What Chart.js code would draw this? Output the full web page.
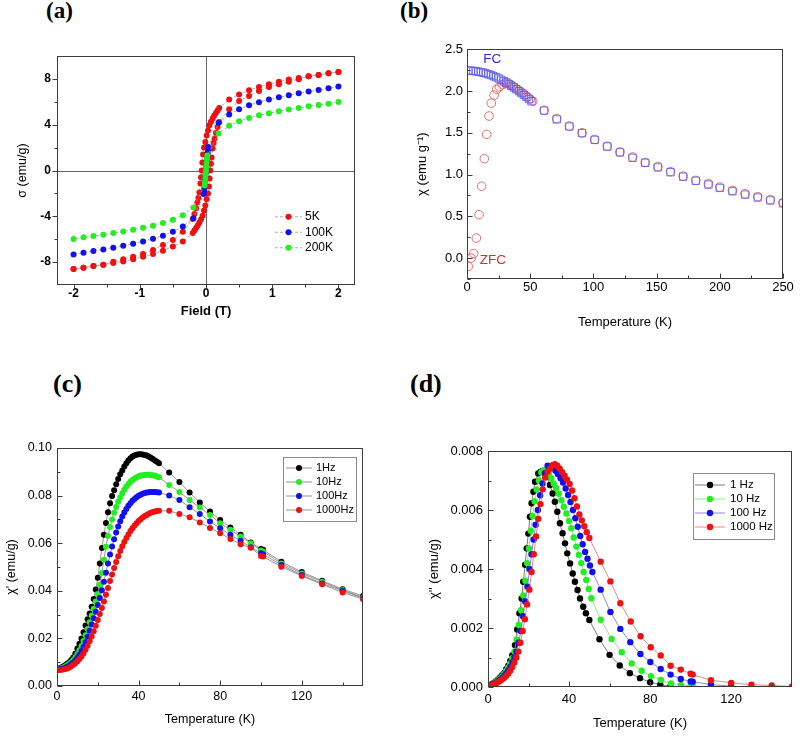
<!DOCTYPE html>
<html>
<head>
<meta charset="utf-8">
<script src="https://cdn.jsdelivr.net/npm/chart.js@4.4.0/dist/chart.umd.min.js"></script>
<style>
  body { margin: 0; background: #fff; width: 800px; height: 736px; position: relative; overflow: hidden; }
  canvas { position: absolute; }
  .tag { position: absolute; font: bold 26px "Liberation Serif", "Times New Roman", serif; line-height: 26px; color: #000; }
  .tag.small { font-size: 23px; line-height: 23px; }
</style>
</head>
<body>
<div class="tag small" style="left:46px;top:-1px">(a)</div>
<div class="tag small" style="left:400px;top:-1px">(b)</div>
<div class="tag" style="left:53px;top:371px">(c)</div>
<div class="tag" style="left:410px;top:371px">(d)</div>
<canvas id="ca" width="380" height="300" style="left:0;top:40px"></canvas>
<canvas id="cb" width="400" height="297" style="left:400px;top:43px"></canvas>
<canvas id="cc" width="380" height="336" style="left:0;top:400px"></canvas>
<canvas id="cd" width="400" height="336" style="left:400px;top:400px"></canvas>
<script>
// ---- (a) hysteresis loops ----
const field5Down = [2, 1.85, 1.7, 1.55, 1.4, 1.25, 1.1, 0.95, 0.8, 0.65, 0.5, 0.35,
  0.2, 0.175, 0.15, 0.125, 0.1, 0.075, 0.05, 0.03, 0.01, -0.01, -0.03, -0.045, -0.055, -0.065,
  -0.075, -0.085, -0.1, -0.115, -0.13, -0.15, -0.175, -0.2,
  -0.35, -0.5, -0.65, -0.8, -0.95, -1.1, -1.25, -1.4, -1.55, -1.7, -1.85, -2];
const sigma5Down = [8.6, 8.49, 8.35, 8.23, 8.08, 7.94, 7.76, 7.53, 7.3, 7.0, 6.63, 6.2,
  5.46, 5.25, 5.03, 4.8, 4.54, 4.25, 3.95, 3.5, 3.05, 2.5, 2.0, 1.4, 0.7, 0,
  -0.6, -1.14, -1.92, -2.4, -2.8, -3.3, -3.8, -4.24,
  -5.36, -6.07, -6.5, -6.95, -7.3, -7.53, -7.76, -7.97, -8.23, -8.35, -8.49, -8.6];
const field5Up = [-2, -1.85, -1.7, -1.55, -1.4, -1.25, -1.1, -0.95, -0.8, -0.65, -0.5, -0.35,
  -0.2, -0.175, -0.15, -0.125, -0.1, -0.075, -0.05, -0.03, -0.01, 0.01, 0.03, 0.045, 0.055, 0.065,
  0.075, 0.085, 0.1, 0.115, 0.13, 0.15, 0.175, 0.2,
  0.35, 0.5, 0.65, 0.8, 0.95, 1.1, 1.25, 1.4, 1.55, 1.7, 1.85, 2];
const sigma5Up = [-8.6, -8.49, -8.35, -8.23, -8.08, -7.94, -7.76, -7.53, -7.3, -7.0, -6.63, -6.2,
  -5.46, -5.25, -5.03, -4.8, -4.54, -4.25, -3.95, -3.5, -3.05, -2.5, -2.0, -1.4, -0.7, 0,
  0.6, 1.14, 1.92, 2.4, 2.8, 3.3, 3.8, 4.24,
  5.36, 6.07, 6.5, 6.95, 7.3, 7.53, 7.76, 7.97, 8.23, 8.35, 8.49, 8.6];
const field100 = [2, 1.85, 1.7, 1.55, 1.4, 1.25, 1.1, 0.95, 0.8, 0.65, 0.5, 0.35,
  0.19, 0.035, 0.03, 0.025, 0.02, 0.015, 0.01, 0.005, 0, -0.005, -0.01, -0.015, -0.02, -0.025, -0.03, -0.035,
  -0.19, -0.35, -0.5, -0.65, -0.8, -0.95, -1.1, -1.25, -1.4, -1.55, -1.7, -1.85, -2];
const sigma100 = [7.33, 7.18, 7.03, 6.89, 6.74, 6.57, 6.4, 6.2, 5.96, 5.7, 5.35, 4.89,
  4.16, 2.06, 1.8, 1.5, 1.2, 0.9, 0.6, 0.3, 0, -0.3, -0.6, -0.9, -1.2, -1.5, -1.8, -2.06,
  -4.16, -4.89, -5.35, -5.7, -5.96, -6.2, -6.4, -6.57, -6.74, -6.89, -7.03, -7.18, -7.33];
const field200 = [2, 1.85, 1.7, 1.55, 1.4, 1.25, 1.1, 0.95, 0.8, 0.65, 0.5, 0.35,
  0.19, 0.02, 0.015, 0.01, 0.005, 0, -0.005, -0.01, -0.015, -0.02,
  -0.19, -0.35, -0.5, -0.65, -0.8, -0.95, -1.1, -1.25, -1.4, -1.55, -1.7, -1.85, -2];
const sigma200 = [5.99, 5.84, 5.73, 5.61, 5.46, 5.32, 5.17, 5.0, 4.83, 4.59, 4.3, 3.9,
  3.23, 1.3, 1.0, 0.65, 0.33, 0, -0.33, -0.65, -1.0, -1.3,
  -3.23, -3.9, -4.3, -4.59, -4.83, -5.0, -5.17, -5.32, -5.46, -5.61, -5.73, -5.84, -5.99];
const loopLabels = ['5K', '100K', '200K'];
const fieldTicks = [-2, -1, 0, 1, 2];
const fieldMinor = [-1.5, -0.5, 0.5, 1.5];
const sigmaTicks = [-8, -4, 0, 4, 8];
const sigmaMinor = [-6, -2, 2, 6];

// ---- (b) ZFC / FC ----
const zfcT = [1, 3.2, 5.3, 7.4, 9.5, 11.6, 13.7, 15.6, 17.4, 19.2, 21.4, 23.5, 25.6,
  28, 30, 32, 34, 36, 38, 40, 42, 44, 46, 48, 50, 52,
  61, 71, 81, 91, 101, 111, 121, 131, 141, 151, 161, 171, 181, 191, 200, 210, 220, 230, 240, 250];
const zfcChi = [-0.1, 0.0, 0.055, 0.24, 0.52, 0.86, 1.19, 1.48, 1.70, 1.855, 1.95, 2.02, 2.05,
  2.075, 2.095, 2.10, 2.08, 2.06, 2.04, 2.02, 1.997, 1.975, 1.952, 1.928, 1.903, 1.878,
  1.77, 1.67, 1.58, 1.50, 1.42, 1.34, 1.27, 1.21, 1.145, 1.095, 1.035, 0.98, 0.93, 0.89, 0.85, 0.81, 0.77, 0.735, 0.70, 0.665];
const fcT = [1, 3, 5, 7, 9, 11, 13, 15, 17, 19, 21, 23, 25, 27, 29, 31, 33, 35, 37, 39, 41, 43, 45, 47, 49, 51,
  61, 71, 81, 91, 101, 111, 121, 131, 141, 151, 161, 171, 181, 191, 200, 210, 220, 230, 240, 250];
const fcChi = [2.245, 2.243, 2.24, 2.236, 2.231, 2.225, 2.218, 2.21, 2.20, 2.19, 2.178, 2.165, 2.15,
  2.135, 2.118, 2.10, 2.082, 2.062, 2.042, 2.02, 1.998, 1.975, 1.952, 1.928, 1.903, 1.877,
  1.765, 1.66, 1.575, 1.495, 1.415, 1.335, 1.265, 1.20, 1.14, 1.085, 1.028, 0.975, 0.925, 0.88, 0.84, 0.80, 0.76, 0.725, 0.69, 0.655];
const tempTicksB = [0, 50, 100, 150, 200, 250];
const tempMinorB = [25, 75, 125, 175, 225];
const chiTicksB = [0, 0.5, 1.0, 1.5, 2.0, 2.5];
const chiMinorB = [-0.25, 0.25, 0.75, 1.25, 1.75, 2.25];
const notesB = [{ text: 'FC', t: 20, v: 2.38, color: '#2a2ae0' }, { text: 'ZFC', t: 20.5, v: -0.03, color: '#e02a2a' }];

// ---- (c) chi' ----
const acT = [1, 2, 3, 4, 5, 6, 7, 8, 9, 10, 11, 12, 13, 14, 15, 16, 17, 18, 19, 20,
  21, 22, 23, 24, 25, 26, 27, 28, 29, 30, 31, 32, 33, 34, 35, 36, 37, 38, 39, 40,
  41, 42, 43, 44, 45, 46, 47, 48, 49, 50,
  55, 60, 65, 70, 75, 80, 85, 90, 95, 100, 101, 110, 120, 130, 140, 150];
const chiR1 = [0.0075, 0.0078, 0.0082, 0.0087, 0.0093, 0.0100, 0.0109, 0.0120, 0.0137, 0.0158,
  0.0178, 0.0200, 0.0226, 0.0254, 0.0280, 0.0305, 0.0333, 0.0366, 0.0405, 0.0455,
  0.0515, 0.0580, 0.0635, 0.0685, 0.0730, 0.0768, 0.0798, 0.0822, 0.0848, 0.0870,
  0.0890, 0.0905, 0.0922, 0.0936, 0.0948, 0.0957, 0.0964, 0.0969, 0.0972, 0.0974,
  0.0974, 0.0973, 0.0971, 0.0968, 0.0964, 0.0959, 0.0954, 0.0948, 0.0942, 0.0936,
  0.0897, 0.0857, 0.0813, 0.0771, 0.0733, 0.0698, 0.0666, 0.0635, 0.0603, 0.0576, 0.0572, 0.0522, 0.0479, 0.0442, 0.0407, 0.0378];
const chiR10 = [0.0072, 0.0075, 0.0078, 0.0082, 0.0087, 0.0093, 0.0100, 0.0109, 0.0120, 0.0134,
  0.0150, 0.0168, 0.0189, 0.0213, 0.0240, 0.0268, 0.0296, 0.0325, 0.0355, 0.0387,
  0.0425, 0.0475, 0.0530, 0.0585, 0.0630, 0.0668, 0.0700, 0.0728, 0.0752, 0.0774,
  0.0793, 0.0810, 0.0825, 0.0838, 0.0849, 0.0858, 0.0866, 0.0872, 0.0877, 0.0881,
  0.0884, 0.0886, 0.0887, 0.0888, 0.0888, 0.0887, 0.0885, 0.0883, 0.0880, 0.0877,
  0.0845, 0.0815, 0.0782, 0.0750, 0.0719, 0.0684, 0.0656, 0.0628, 0.0600, 0.0569, 0.0565, 0.0515, 0.0473, 0.0438, 0.0403, 0.0372];
const chiR100 = [0.0070, 0.0072, 0.0074, 0.0077, 0.0081, 0.0086, 0.0092, 0.0099, 0.0108, 0.0119,
  0.0132, 0.0147, 0.0164, 0.0184, 0.0207, 0.0232, 0.0258, 0.0285, 0.0312, 0.0340,
  0.0370, 0.0402, 0.0438, 0.0476, 0.0515, 0.0552, 0.0586, 0.0617, 0.0645, 0.0670,
  0.0692, 0.0712, 0.0729, 0.0744, 0.0757, 0.0768, 0.0778, 0.0786, 0.0793, 0.0799,
  0.0804, 0.0808, 0.0811, 0.0813, 0.0814, 0.0815, 0.0815, 0.0815, 0.0814, 0.0813,
  0.0800, 0.0782, 0.0751, 0.0723, 0.0691, 0.0663, 0.0635, 0.0610, 0.0583, 0.0558, 0.0554, 0.0508, 0.0466, 0.0431, 0.0400, 0.0369];
const chiR1000 = [0.0067, 0.0068, 0.0069, 0.0071, 0.0074, 0.0078, 0.0083, 0.0089, 0.0096, 0.0104,
  0.0113, 0.0124, 0.0137, 0.0152, 0.0169, 0.0188, 0.0208, 0.0230, 0.0253, 0.0277,
  0.0302, 0.0328, 0.0355, 0.0383, 0.0412, 0.0441, 0.0469, 0.0496, 0.0521, 0.0545,
  0.0567, 0.0587, 0.0605, 0.0622, 0.0637, 0.0651, 0.0663, 0.0674, 0.0684, 0.0693,
  0.0701, 0.0708, 0.0714, 0.0719, 0.0724, 0.0728, 0.0731, 0.0733, 0.0735, 0.0736,
  0.0736, 0.0723, 0.0709, 0.0687, 0.0664, 0.0642, 0.0618, 0.0596, 0.0581, 0.0546, 0.0544, 0.0501, 0.0462, 0.0427, 0.0393, 0.0365];
const freqLabelsC = ['1Hz', '10Hz', '100Hz', '1000Hz'];
const tempTicksCD = [0, 40, 80, 120];
const tempMinorCD = [20, 60, 100, 140];
const chiTicksC = [0, 0.02, 0.04, 0.06, 0.08, 0.10];
const chiMinorC = [0.01, 0.03, 0.05, 0.07, 0.09];

// ---- (d) chi'' ----
const dT1 = [1, 2, 3, 4, 5, 6, 7, 8, 9, 10, 11, 12,
  13.3, 14.4, 15.5, 16.6, 17.4, 18.3, 19.1, 19.9, 20.7, 21.5, 22.4, 23.2, 24.8,
  26, 27, 28, 29, 30.6, 31.9, 33, 34.2, 35.5, 36.8, 38, 39.1, 40.5, 41.8, 42.9, 44.2, 45.4, 47, 48.3, 50,
  55, 60, 65, 70, 75, 80, 85, 90];
const dChi1 = [0.00005, 0.0001, 0.00015, 0.0002, 0.00026, 0.00032, 0.0004, 0.00048, 0.0006, 0.00072, 0.00088, 0.00108,
  0.00142, 0.00195, 0.0025, 0.003, 0.00357, 0.00414, 0.0047, 0.0052, 0.00577, 0.00623, 0.00662, 0.00696, 0.00724,
  0.0073, 0.00732, 0.00725, 0.00713, 0.00685, 0.00656, 0.00628, 0.00594, 0.00555, 0.00521, 0.00487, 0.00453, 0.00419, 0.00385, 0.00357, 0.00329, 0.003, 0.00272, 0.0025, 0.00227,
  0.00162, 0.00109, 0.00073, 0.00047, 0.0003, 0.00016, 0.00008, 0.00002];
const dT10 = [1, 2, 3, 4, 5, 6, 7, 8, 9, 10, 11, 12, 13,
  14.1, 15.2, 16.3, 17.4, 18.4, 19.3, 20.2, 21.1, 22, 23, 24, 25.1, 26.3, 27.5, 28.8,
  30, 31.2, 32.4, 33.6, 34.9, 36.2, 37.4, 38.7, 39.9, 41.1, 42.3, 43.6, 44.8, 46, 47.2, 48.5, 49.7, 51,
  55.6, 61, 66, 70.9, 75.8, 80.4, 85.3, 90.3, 95.2, 100, 101];
const dChi10 = [0.00004, 0.00008, 0.00013, 0.00018, 0.00023, 0.00029, 0.00036, 0.00044, 0.00054, 0.00066, 0.0008, 0.00098, 0.0012,
  0.0016, 0.0021, 0.0026, 0.0031, 0.0036, 0.0042, 0.0047, 0.0053, 0.0058, 0.0063, 0.0067, 0.007, 0.00728, 0.00735, 0.00732,
  0.00722, 0.00708, 0.0069, 0.00675, 0.00655, 0.00633, 0.00611, 0.00588, 0.00563, 0.00538, 0.00507, 0.00476, 0.00448, 0.0042, 0.0039, 0.00363, 0.00332, 0.00301,
  0.00228, 0.00163, 0.00118, 0.0008, 0.00055, 0.00037, 0.00024, 0.00012, 0.00007, 0.00004, 0.00004];
const dT100 = [1, 2, 3, 4, 5, 6, 7, 8, 9, 10, 11, 12, 13, 14,
  15.1, 16.2, 17.3, 18.4, 19.5, 20.5, 21.5, 22.5, 23.5, 24.6, 25.7, 26.9, 28.1, 29.4, 30.7,
  32, 33.3, 34.5, 35.8, 37, 38.3, 39.5, 40.7, 41.9, 43.1, 44.3, 45.5, 46.7, 47.9, 49.1, 50.3, 51.5,
  55.6, 60.4, 65.3, 70.2, 75.2, 80.1, 85.2, 90.1, 95.1, 100, 101, 110, 120];
const dChi100 = [0.00003, 0.00007, 0.00011, 0.00015, 0.0002, 0.00025, 0.00031, 0.00038, 0.00046, 0.00056, 0.00068, 0.00083, 0.001, 0.0012,
  0.0015, 0.0019, 0.0024, 0.0029, 0.0034, 0.004, 0.0045, 0.005, 0.0055, 0.006, 0.0065, 0.0069, 0.00725, 0.0075, 0.00748,
  0.00742, 0.00733, 0.00722, 0.00708, 0.00693, 0.00673, 0.00651, 0.00627, 0.006, 0.00572, 0.00543, 0.00512, 0.00484, 0.00458, 0.00435, 0.00412, 0.0039,
  0.0033, 0.00254, 0.00197, 0.00152, 0.00112, 0.00085, 0.00061, 0.00042, 0.00027, 0.00019, 0.00018, 0.00008, 0.00003];
const dT1000 = [1, 2, 3, 4, 5, 6, 7, 8, 9, 10, 11, 12, 13, 14, 15, 16,
  17.1, 18.2, 19.3, 20.4, 21.5, 22.6, 23.7, 24.8, 25.9, 27, 28.2, 29.4, 30.6,
  31.8, 33, 34.2, 35.4, 36.6, 37.8, 39, 40.3, 41.5, 42.7, 43.9, 45.1, 46.3, 47.5, 48.7, 50,
  55.6, 60.4, 65.3, 70.4, 75.3, 80.3, 85.2, 90.1, 95.1, 100, 101, 110, 120, 130, 140, 150];
const dChi1000 = [0.00003, 0.00006, 0.0001, 0.00013, 0.00017, 0.00021, 0.00026, 0.00031, 0.00038, 0.00046, 0.00056, 0.00068, 0.00083, 0.001, 0.0012, 0.0015,
  0.0019, 0.0023, 0.0028, 0.0033, 0.0039, 0.0045, 0.0051, 0.0057, 0.0062, 0.0067, 0.0071, 0.0073, 0.0074,
  0.00752, 0.00755, 0.0075, 0.0074, 0.00728, 0.00716, 0.00703, 0.00688, 0.00666, 0.0064, 0.00612, 0.00585, 0.00565, 0.00545, 0.00525, 0.00505,
  0.00425, 0.00358, 0.00284, 0.00222, 0.00172, 0.00135, 0.00107, 0.00072, 0.00059, 0.00045, 0.00042, 0.00023, 0.00014, 0.00008, 0.00005, 0.00002];
const freqLabelsD = ['1 Hz', '10 Hz', '100 Hz', '1000 Hz'];
const chiTicksD = [0, 0.002, 0.004, 0.006, 0.008];
const chiMinorD = [0.001, 0.003, 0.005, 0.007];

const FONT = '"Liberation Sans", Arial, sans-serif';
Chart.defaults.font.family = FONT;
Chart.defaults.color = '#000';

function pts(xs, ys) {
  return xs.map((x, i) => ({ x: x, y: ys[i] }));
}

function dotSet(label, xs, ys, color, lineColor, r, order, dash) {
  return {
    label: label, data: pts(xs, ys), showLine: true, tension: 0,
    borderColor: lineColor, borderWidth: 0.8, borderDash: dash || [],
    pointRadius: r, pointHoverRadius: r, pointBorderWidth: 0,
    pointBackgroundColor: color, pointBorderColor: color, order: order
  };
}

// axis with fixed box size so chart areas line up with the picture
function scaleCfg(o) {
  return {
    type: 'linear', min: o.min, max: o.max,
    grid: { display: false, drawTicks: false },
    border: { display: false },
    afterBuildTicks: function(s) { s.ticks = o.ticks.map(v => ({ value: v })); },
    afterFit: function(s) {
      if (s.isHorizontal()) s.height = o.size; else s.width = o.size;
      s.paddingLeft = 0; s.paddingRight = 0; s.paddingTop = 0; s.paddingBottom = 0;
    },
    ticks: { autoSkip: false, maxRotation: 0, padding: o.pad, color: '#000', font: o.font, callback: o.fmt },
    title: { display: true, text: o.title, color: '#000', font: o.titleFont, padding: o.titlePad }
  };
}

// box around the plot, tick marks, optional zero cross
function framePlugin(cfg) {
  return {
    id: 'frame',
    beforeDatasetsDraw(chart) {
      if (!cfg.zero) return;
      const { ctx, chartArea: a, scales: { x, y } } = chart;
      const x0 = Math.round(x.getPixelForValue(0)) + 0.5;
      const y0 = Math.round(y.getPixelForValue(0)) + 0.5;
      ctx.save();
      ctx.strokeStyle = '#6a6a6a'; ctx.lineWidth = 1;
      ctx.beginPath();
      ctx.moveTo(x0, a.top); ctx.lineTo(x0, a.bottom);
      ctx.moveTo(a.left, y0); ctx.lineTo(a.right, y0);
      ctx.stroke();
      ctx.restore();
    },
    afterDatasetsDraw(chart) {
      const { ctx, chartArea: a, scales: { x, y } } = chart;
      const l = Math.round(a.left) + 0.5, t = Math.round(a.top) + 0.5;
      const r = Math.round(a.right) - 0.5, b = Math.round(a.bottom) - 0.5;
      ctx.save();
      ctx.strokeStyle = '#3c3c3c'; ctx.lineWidth = 1;
      ctx.strokeRect(l, t, r - l, b - t);
      ctx.beginPath();
      const mark = (scale, vals, len) => vals.forEach(v => {
        const p = Math.round(scale.getPixelForValue(v)) + 0.5;
        if (scale.isHorizontal()) { ctx.moveTo(p, b); ctx.lineTo(p, b - cfg.dir * len); }
        else { ctx.moveTo(l, p); ctx.lineTo(l + cfg.dir * len, p); }
      });
      mark(x, cfg.xMajor, 5); mark(x, cfg.xMinor, 3);
      mark(y, cfg.yMajor, 5); mark(y, cfg.yMinor, 3);
      ctx.stroke();
      ctx.restore();
    }
  };
}

function legendPlugin(cfg) {
  return {
    id: 'boxLegend',
    afterDraw(chart) {
      const { ctx, chartArea: a } = chart;
      const sets = chart.data.datasets;
      const x0 = Math.round(a.left + cfg.x), y0 = Math.round(a.top + cfg.y);
      const h = cfg.pad * 2 + cfg.rowH * sets.length;
      ctx.save();
      if (cfg.box) {
        ctx.fillStyle = '#fff'; ctx.fillRect(x0, y0, cfg.w, h);
        ctx.strokeStyle = '#8a8a8a'; ctx.lineWidth = 1;
        ctx.strokeRect(x0 + 0.5, y0 + 0.5, cfg.w, h);
      }
      ctx.font = cfg.font; ctx.textBaseline = 'middle';
      sets.forEach((d, i) => {
        const cy = y0 + cfg.pad + cfg.rowH * (i + 0.5);
        ctx.strokeStyle = d.borderColor; ctx.lineWidth = d.borderWidth;
        ctx.setLineDash(d.borderDash || []);
        ctx.beginPath(); ctx.moveTo(x0 + cfg.l0, cy); ctx.lineTo(x0 + cfg.l1, cy); ctx.stroke();
        ctx.setLineDash([]);
        ctx.fillStyle = d.pointBackgroundColor;
        ctx.beginPath(); ctx.arc(x0 + (cfg.l0 + cfg.l1) / 2, cy, d.pointRadius, 0, Math.PI * 2); ctx.fill();
        ctx.fillStyle = '#000';
        ctx.fillText(d.label, x0 + cfg.tx, cy);
      });
      ctx.restore();
    }
  };
}

function notePlugin(notes) {
  return {
    id: 'notes',
    afterDatasetsDraw(chart) {
      const { ctx, scales: { x, y } } = chart;
      ctx.save();
      ctx.font = '13.5px ' + FONT; ctx.textAlign = 'center'; ctx.textBaseline = 'middle';
      notes.forEach(n => {
        ctx.fillStyle = n.color;
        ctx.fillText(n.text, x.getPixelForValue(n.t), y.getPixelForValue(n.v));
      });
      ctx.restore();
    }
  };
}

function baseOptions(padding, xs, ys) {
  return {
    responsive: false, animation: false, devicePixelRatio: 1, events: [],
    layout: { padding: padding },
    scales: { x: xs, y: ys },
    plugins: { legend: { display: false }, tooltip: { enabled: false } }
  };
}

// (a)
new Chart(document.getElementById('ca'), {
  type: 'scatter',
  data: {
    datasets: [
      dotSet(loopLabels[0], field5Down.concat(field5Up), sigma5Down.concat(sigma5Up), '#ee1111', '#9a9a9a', 3, 3, [3, 2]),
      dotSet(loopLabels[1], field100, sigma100, '#1111ee', '#9a9a9a', 3, 2, [3, 2]),
      dotSet(loopLabels[2], field200, sigma200, '#22ee22', '#9a9a9a', 3, 1, [3, 2])
    ]
  },
  options: baseOptions({ left: 0, top: 16, right: 25, bottom: 0 },
    scaleCfg({ min: -2.25, max: 2.25, ticks: fieldTicks, size: 55, pad: 1, fmt: v => String(v),
      font: { size: 12, weight: 'bold' }, title: 'Field (T)', titleFont: { size: 13, weight: 'bold' },
      titlePad: { top: 0, bottom: 21 } }),
    scaleCfg({ min: -10, max: 10, ticks: sigmaTicks, size: 57, pad: 6, fmt: v => String(v),
      font: { size: 12, weight: 'bold' }, title: 'σ (emu/g)', titleFont: { size: 12.5 },
      titlePad: { top: 15, bottom: 0 } })),
  plugins: [
    framePlugin({ dir: -1, zero: true, xMajor: fieldTicks, xMinor: fieldMinor, yMajor: sigmaTicks, yMinor: sigmaMinor }),
    legendPlugin({ x: 218, y: 153, pad: 0, rowH: 15.5, l0: 0, l1: 27, tx: 30, box: false, font: '12px ' + FONT })
  ]
});

// (b)
new Chart(document.getElementById('cb'), {
  type: 'scatter',
  data: {
    datasets: [
      { label: 'ZFC', data: pts(zfcT, zfcChi), pointStyle: 'circle', pointRadius: 4.3, pointHoverRadius: 4.3,
        pointBackgroundColor: 'rgba(0,0,0,0)', pointBorderColor: '#f06868', pointBorderWidth: 1, order: 2 },
      { label: 'FC', data: pts(fcT, fcChi), pointStyle: 'rect', pointRadius: 5.2, pointHoverRadius: 5.2,
        pointBackgroundColor: 'rgba(0,0,0,0)', pointBorderColor: 'rgba(90,90,240,0.85)', pointBorderWidth: 1, order: 1 }
    ]
  },
  options: baseOptions({ left: 0, top: 2, right: 17, bottom: 0 },
    scaleCfg({ min: 0, max: 250, ticks: tempTicksB, size: 61, pad: 1, fmt: v => String(v),
      font: { size: 13 }, title: 'Temperature (K)', titleFont: { size: 13 },
      titlePad: { top: 0, bottom: 10 } }),
    scaleCfg({ min: -0.25, max: 2.5, ticks: chiTicksB, size: 67, pad: 4, fmt: v => v.toFixed(1),
      font: { size: 13 }, title: 'χ (emu g⁻¹)', titleFont: { size: 13 },
      titlePad: { top: 15, bottom: 0 } })),
  plugins: [
    framePlugin({ dir: 1, xMajor: tempTicksB, xMinor: tempMinorB, yMajor: chiTicksB, yMinor: chiMinorB }),
    notePlugin(notesB)
  ]
});

// (c)
new Chart(document.getElementById('cc'), {
  type: 'scatter',
  data: {
    datasets: [
      dotSet(freqLabelsC[0], acT, chiR1, '#000000', '#7a7a7a', 3, 4),
      dotSet(freqLabelsC[1], acT, chiR10, '#22ee22', '#7a7a7a', 3, 3),
      dotSet(freqLabelsC[2], acT, chiR100, '#1111ee', '#7a7a7a', 3, 2),
      dotSet(freqLabelsC[3], acT, chiR1000, '#ee1111', '#7a7a7a', 3, 1)
    ]
  },
  options: baseOptions({ left: 0, top: 48, right: 17, bottom: 0 },
    scaleCfg({ min: 0, max: 150, ticks: tempTicksCD, size: 50, pad: 3.5, fmt: v => String(v),
      font: { size: 12.5 }, title: 'Temperature (K)', titleFont: { size: 12.5 },
      titlePad: { top: 0, bottom: 8.5 } }),
    scaleCfg({ min: 0, max: 0.1, ticks: chiTicksC, size: 57, pad: 5, fmt: v => v.toFixed(2),
      font: { size: 12.5 }, title: "χ' (emu/g)", titleFont: { size: 12.5 },
      titlePad: { top: 4.5, bottom: 0 } })),
  plugins: [
    framePlugin({ dir: 1, xMajor: tempTicksCD, xMinor: tempMinorCD, yMajor: chiTicksC, yMinor: chiMinorC }),
    legendPlugin({ x: 226, y: 9, w: 73, pad: 4, rowH: 14, l0: 3, l1: 29, tx: 33, box: true, font: '11px ' + FONT })
  ]
});

// (d)
new Chart(document.getElementById('cd'), {
  type: 'scatter',
  data: {
    datasets: [
      dotSet(freqLabelsD[0], dT1, dChi1, '#000000', '#5a5a5a', 3.2, 4),
      dotSet(freqLabelsD[1], dT10, dChi10, '#22ee22', '#6aea6a', 3.2, 3),
      dotSet(freqLabelsD[2], dT100, dChi100, '#1111ee', '#6a6aee', 3.2, 2),
      dotSet(freqLabelsD[3], dT1000, dChi1000, '#ee1111', '#ee6a6a', 3.2, 1)
    ]
  },
  options: baseOptions({ left: 0, top: 51, right: 8, bottom: 0 },
    scaleCfg({ min: 0, max: 150, ticks: tempTicksCD, size: 49, pad: 5, fmt: v => String(v),
      font: { size: 13 }, title: 'Temperature (K)', titleFont: { size: 13 },
      titlePad: { top: 0, bottom: 5 } }),
    scaleCfg({ min: 0, max: 0.008, ticks: chiTicksD, size: 88, pad: 5, fmt: v => v.toFixed(3),
      font: { size: 13 }, title: "χ'' (emu/g)", titleFont: { size: 13 },
      titlePad: { top: 27, bottom: 0 } })),
  plugins: [
    framePlugin({ dir: 1, xMajor: tempTicksCD, xMinor: tempMinorCD, yMajor: chiTicksD, yMinor: chiMinorD }),
    legendPlugin({ x: 205, y: 22, w: 81, pad: 5, rowH: 14, l0: 2, l1: 32, tx: 37, box: true, font: '11.5px ' + FONT })
  ]
});
</script>
</body>
</html>
